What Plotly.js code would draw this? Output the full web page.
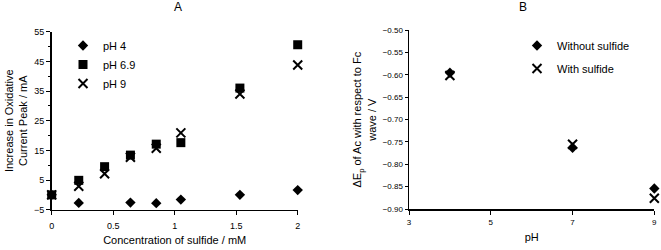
<!DOCTYPE html>
<html>
<head>
<meta charset="utf-8">
<script src="https://cdn.plot.ly/plotly-3.0.1.min.js"></script>
<style>html,body{margin:0;padding:0;background:#fff;}#chart{width:661px;height:250px;}</style>
</head>
<body>
<div id="chart"></div>
<script>
// Panel A data
var concA = [0, 0.22, 0.43, 0.64, 0.85, 1.05, 1.53, 2.0];
var pH4 = [0, -2.7, null, -2.6, -2.8, -1.6, 0.0, 1.6];
var pH69 = [0, 4.9, 9.5, 13.4, 17.1, 17.6, 36.0, 50.6];
var pH9 = [0, 2.9, 7.1, 12.7, 15.7, 20.9, 34.0, 43.8];
// Panel B data
var pHB = [4, 7, 9];
var withoutSulfide = [-0.595, -0.763, -0.854];
var withSulfide = [-0.601, -0.755, -0.876];

var font = 'Liberation Sans, Arial, sans-serif';
var traces = [
  {x: concA, y: pH4, type: 'scatter', mode: 'markers', name: 'pH 4', xaxis: 'x', yaxis: 'y', legend: 'legend',
   marker: {symbol: 'diamond', size: 8, color: '#000'}, cliponaxis: false},
  {x: concA, y: pH69, type: 'scatter', mode: 'markers', name: 'pH 6.9', xaxis: 'x', yaxis: 'y', legend: 'legend',
   marker: {symbol: 'square', size: 9, color: '#000'}, cliponaxis: false},
  {x: concA, y: pH9, type: 'scatter', mode: 'markers', name: 'pH 9', xaxis: 'x', yaxis: 'y', legend: 'legend',
   marker: {symbol: 'x-thin', size: 9, color: '#000', line: {width: 2, color: '#000'}}, cliponaxis: false},
  {x: pHB, y: withoutSulfide, type: 'scatter', mode: 'markers', name: 'Without sulfide', xaxis: 'x2', yaxis: 'y2', legend: 'legend2', legendgroup: 'g1',
   marker: {symbol: 'diamond', size: 8, color: '#000'}, cliponaxis: false},
  {x: pHB, y: withSulfide, type: 'scatter', mode: 'markers', name: 'With sulfide', xaxis: 'x2', yaxis: 'y2', legend: 'legend2', legendgroup: 'g2',
   marker: {symbol: 'x-thin', size: 9, color: '#000', line: {width: 2, color: '#000'}}, cliponaxis: false}
];

var axCommon = {showgrid: false, zeroline: false, showline: true, linecolor: '#000', linewidth: 1.5,
  ticks: 'outside', ticklen: 4, tickcolor: '#000', tickwidth: 1, tickfont: {family: font, size: 9, color: '#000'}};

var layout = {
  width: 661, height: 250,
  margin: {l: 0, r: 0, t: 0, b: 0},
  paper_bgcolor: '#fff', plot_bgcolor: '#fff',
  font: {family: font, color: '#000'},
  showlegend: true,
  xaxis: Object.assign({}, axCommon, {domain: [0.0782, 0.4504], range: [0, 2], tickvals: [0, 0.5, 1, 1.5, 2], ticktext: ['0', '0.5', '1', '1.5', '2'],
    ticklabelstandoff: 3,
    title: {text: 'Concentration of sulfide / mM', font: {family: font, size: 11, color: '#000'}, standoff: 6}, anchor: 'y'}),
  yaxis: Object.assign({}, axCommon, {domain: [0.1612, 0.8732], range: [-5, 55], tickvals: [-5, 5, 15, 25, 35, 45, 55],
    minor: {tickvals: [0, 10, 20, 30, 40, 50], ticks: 'outside', ticklen: 2, tickcolor: '#000'},
    title: {text: 'Increase in Oxidative<br>Current Peak / mA', font: {family: font, size: 11, color: '#000'}, standoff: 4}, anchor: 'x'}),
  xaxis2: Object.assign({}, axCommon, {domain: [0.6188, 0.9899], range: [3, 9], tickvals: [3, 5, 7, 9], tickfont: {family: font, size: 8, color: '#000'},
    ticklabelstandoff: 1,
    title: {text: 'pH', font: {family: font, size: 11, color: '#000'}, standoff: 7}, anchor: 'y2'}),
  yaxis2: Object.assign({}, axCommon, {domain: [0.164, 0.8788], range: [-0.9, -0.5], tickvals: [-0.9, -0.85, -0.8, -0.75, -0.7, -0.65, -0.6, -0.55, -0.5],
    tickformat: '.2f', tickfont: {family: font, size: 8, color: '#000'}, ticklen: 3,
    title: {text: 'ΔE<sub>p</sub> of Ac with respect to Fc<br>wave / V', font: {family: font, size: 11, color: '#000'}, standoff: 4}, anchor: 'x2'}),
  legend: {x: 63 / 661, y: 1 - 31 / 250, xanchor: 'left', yanchor: 'top', bgcolor: 'rgba(0,0,0,0)',
    font: {family: font, size: 11, color: '#000'}, itemclick: false},
  legend2: {x: 517 / 661, y: 1 - 31 / 250, xanchor: 'left', yanchor: 'top', bgcolor: 'rgba(0,0,0,0)',
    font: {family: font, size: 11, color: '#000'}, traceorder: 'grouped', tracegroupgap: 4, itemclick: false},
  annotations: [
    {text: 'A', x: 178 / 661, y: 1 - 7 / 250, xref: 'paper', yref: 'paper', showarrow: false, xanchor: 'center', yanchor: 'middle',
     font: {family: font, size: 12, color: '#000'}},
    {text: 'B', x: 523 / 661, y: 1 - 7 / 250, xref: 'paper', yref: 'paper', showarrow: false, xanchor: 'center', yanchor: 'middle',
     font: {family: font, size: 12, color: '#000'}}
  ]
};

Plotly.newPlot('chart', traces, layout, {displayModeBar: false, staticPlot: true});
</script>
</body>
</html>
